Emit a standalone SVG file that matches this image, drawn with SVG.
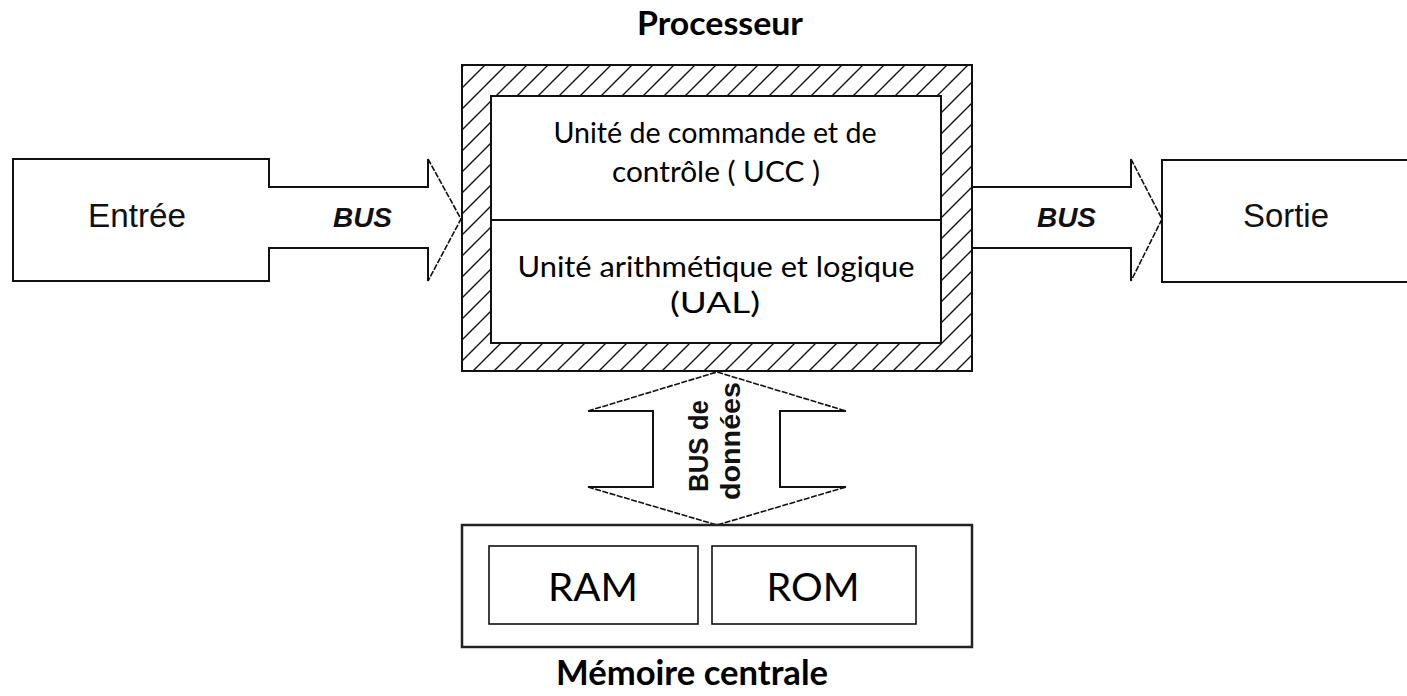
<svg xmlns="http://www.w3.org/2000/svg" width="1407" height="696" viewBox="0 0 1407 696">
  <defs>
    <!-- diagonal hatching for the processor casing -->
    <pattern id="hatch" patternUnits="userSpaceOnUse" x="4" y="0" width="21" height="21">
      <path d="M0,21 L21,0 M-2,2 L2,-2 M19,23 L23,19" stroke="#111" stroke-width="1.4"/>
    </pattern>
  </defs>
  <style>
    .box { fill: #fff; stroke: #111; stroke-width: 2; }
    .outline { fill: none; stroke: #111; stroke-width: 2; }
    .bus { fill: #fff; stroke: #111; stroke-width: 2; }
    .head { fill: none; stroke: #111; stroke-width: 1.6; stroke-dasharray: 6 1.5; }
    .lbl { font-family: Lato, "Open Sans", sans-serif; fill: #000; text-anchor: middle; }
    .title { font-family: Lato, "Open Sans", sans-serif; font-weight: bold; fill: #000; text-anchor: middle; }
    .io { font-family: "Liberation Sans", Arial, sans-serif; font-size: 33px; fill: #111; }
    .buslbl { font-family: "Liberation Sans", Arial, sans-serif; font-size: 27px; font-weight: bold; font-style: italic; fill: #111; }
    .vbus { font-family: "Liberation Sans", Arial, sans-serif; font-size: 27px; font-weight: bold; fill: #111; text-anchor: middle; }
  </style>
  <rect width="1407" height="696" fill="#fff"/>

  <!-- connectors: bus arrows -->
  <g id="connectors">
    <g id="bus-in">
      <path class="bus" d="M268,187 H428 V159 M428,281 V248 H268" />
      <path class="head" d="M428,159 L461,219 L428,281"/>
      <text class="buslbl" x="333" y="227" textLength="59" lengthAdjust="spacingAndGlyphs">BUS</text>
    </g>
    <g id="bus-out">
      <path class="bus" d="M972,187 H1131 V159 M1131,281 V248 H972" />
      <path class="head" d="M1131,159 L1162,219 L1131,281"/>
      <text class="buslbl" x="1037" y="227" textLength="59" lengthAdjust="spacingAndGlyphs">BUS</text>
    </g>
    <g id="bus-data">
      <path class="bus" d="M588,411 H653 V487 H588 M846,411 H780 V487 H846"/>
      <path class="head" d="M588,411 L717,372 L846,411 M588,487 L717,525 L846,487"/>
      <text class="vbus" transform="translate(708,446) rotate(-90)" textLength="92" lengthAdjust="spacingAndGlyphs">BUS de</text>
      <text class="vbus" transform="translate(740,441) rotate(-90)" textLength="118" lengthAdjust="spacingAndGlyphs">données</text>
    </g>
  </g>

  <!-- input node -->
  <g id="entree">
    <path class="outline" d="M269,187 V159 H13 V281 H269 V248"/>
    <text class="io" x="88" y="227" textLength="98" lengthAdjust="spacingAndGlyphs">Entrée</text>
  </g>

  <!-- output node (runs off the right edge) -->
  <g id="sortie">
    <path class="outline" d="M1420,160 H1162 V282 H1420"/>
    <text class="io" x="1243" y="227" textLength="86" lengthAdjust="spacingAndGlyphs">Sortie</text>
  </g>

  <!-- processor with hatched casing -->
  <g id="processeur">
    <text class="title" x="720" y="35" font-size="32" textLength="166" lengthAdjust="spacingAndGlyphs">Processeur</text>
    <rect x="462" y="65" width="510" height="306" fill="url(#hatch)" stroke="#111" stroke-width="2"/>
    <rect class="box" x="491" y="96" width="450" height="247"/>
    <line x1="491" y1="220" x2="941" y2="220" stroke="#111" stroke-width="2"/>
    <g id="ucc">
      <text class="lbl" x="715" y="143" font-size="28" textLength="323" lengthAdjust="spacingAndGlyphs">Unité de commande et de</text>
      <text class="lbl" x="716" y="182" font-size="28" textLength="208" lengthAdjust="spacingAndGlyphs">contrôle ( UCC )</text>
    </g>
    <g id="ual">
      <text class="lbl" x="716" y="277" font-size="28" textLength="397" lengthAdjust="spacingAndGlyphs">Unité arithmétique et logique</text>
      <text class="lbl" x="715" y="313" font-size="28" textLength="90" lengthAdjust="spacingAndGlyphs">(UAL)</text>
    </g>
  </g>

  <!-- main memory -->
  <g id="memoire">
    <rect x="462" y="525" width="510" height="122" fill="#fff" stroke="#222" stroke-width="2.5"/>
    <g id="ram">
      <rect x="489" y="546" width="209" height="78" fill="#fff" stroke="#111" stroke-width="1.6"/>
      <text class="lbl" x="593" y="601" font-size="39" textLength="90" lengthAdjust="spacingAndGlyphs">RAM</text>
    </g>
    <g id="rom">
      <rect x="712" y="546" width="204" height="78" fill="#fff" stroke="#111" stroke-width="1.6"/>
      <text class="lbl" x="813" y="601" font-size="39" textLength="93" lengthAdjust="spacingAndGlyphs">ROM</text>
    </g>
    <text class="title" x="692" y="685" font-size="35" textLength="272" lengthAdjust="spacingAndGlyphs">Mémoire centrale</text>
  </g>
</svg>
